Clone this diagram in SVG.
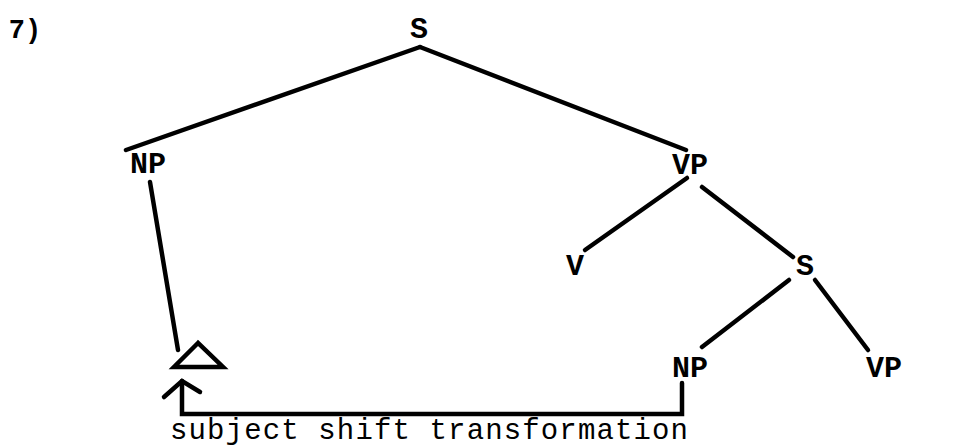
<svg xmlns="http://www.w3.org/2000/svg" width="970" height="448" viewBox="0 0 970 448">
<style>
.lbl{font-family:"Liberation Mono","Courier New",monospace;font-weight:bold;font-size:30px;fill:#000;text-anchor:middle}
.cap{font-family:"Liberation Mono","Courier New",monospace;font-size:29px;fill:#000}
.e{stroke:#000;stroke-width:4.5;stroke-linecap:round;fill:none}
</style>
<rect width="970" height="448" fill="#fff"/>
<text class="lbl" x="25" y="38" style="font-size:27px">7)</text>
<g id="connectors">
<line class="e" x1="420" y1="47" x2="126" y2="150"/>
<line class="e" x1="420" y1="47" x2="686" y2="150"/>
<line class="e" x1="150" y1="182" x2="178" y2="350"/>
<line class="e" x1="687" y1="178" x2="585" y2="250"/>
<line class="e" x1="702" y1="187" x2="793" y2="257"/>
<line class="e" x1="789" y1="280" x2="702" y2="347"/>
<line class="e" x1="815" y1="280" x2="868" y2="350"/>
<polyline class="e" points="682,383 682,414 182,414 182,381"/>
<polyline class="e" points="164,397 182,381 200,392"/>
</g>
<g id="n-S"><text class="lbl" x="419" y="38">S</text></g>
<g id="n-NP1"><text class="lbl" x="148" y="173">NP</text></g>
<g id="n-VP1"><text class="lbl" x="690" y="174">VP</text></g>
<g id="n-tri"><polygon class="e" points="198,343 174,367 223,367"/></g>
<g id="n-V"><text class="lbl" x="575" y="275">V</text></g>
<g id="n-S2"><text class="lbl" x="805" y="275">S</text></g>
<g id="n-NP2"><text class="lbl" x="690" y="377">NP</text></g>
<g id="n-VP2"><text class="lbl" x="884" y="377">VP</text></g>
<text class="cap" x="170" y="439" textLength="518" lengthAdjust="spacing">subject shift transformation</text>
</svg>
